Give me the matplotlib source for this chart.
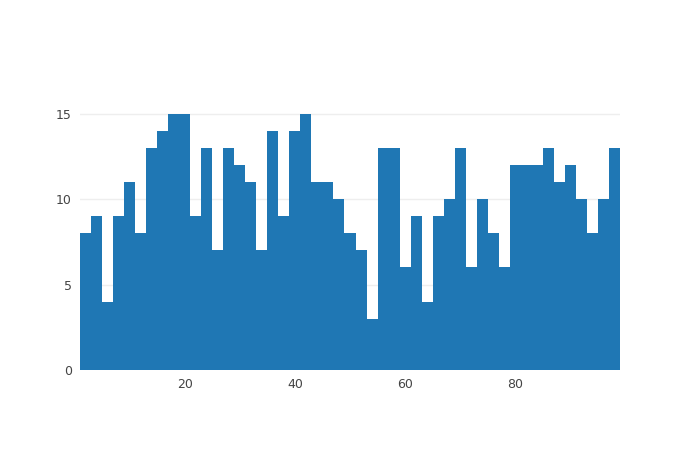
import numpy as np
import matplotlib.pyplot as plt

# histogram bins: start at 1, width 2
bin_start = 1
bin_width = 2
counts = [8, 9, 4, 9, 11, 8, 13, 14, 15, 15, 9, 13, 7, 13, 12, 11, 7, 14, 9, 14,
          15, 11, 11, 10, 8, 7, 3, 13, 13, 6, 9, 4, 9, 10, 13, 6, 10, 8, 6, 12,
          12, 12, 13, 11, 12, 10, 8, 10, 13]

edges = bin_start + bin_width * np.arange(len(counts))

fig = plt.figure(figsize=(7, 4.5), dpi=100)
ax = fig.add_axes([80 / 700, 80 / 450, 540 / 700, 270 / 450])
ax.bar(edges, counts, width=bin_width, align='edge', color='#1f77b4', linewidth=0)

ax.set_xlim(edges[0], edges[-1] + bin_width)
ax.set_ylim(0, 15.8)
ax.set_xticks([20, 40, 60, 80])
ax.set_yticks([0, 5, 10, 15])
ax.grid(axis='y', color='#eeeeee', linewidth=1)
ax.set_axisbelow(True)
for s in ax.spines.values():
    s.set_visible(False)
ax.tick_params(length=0, labelsize=9, labelcolor='#444444', pad=6)

fig.savefig('out.png')
